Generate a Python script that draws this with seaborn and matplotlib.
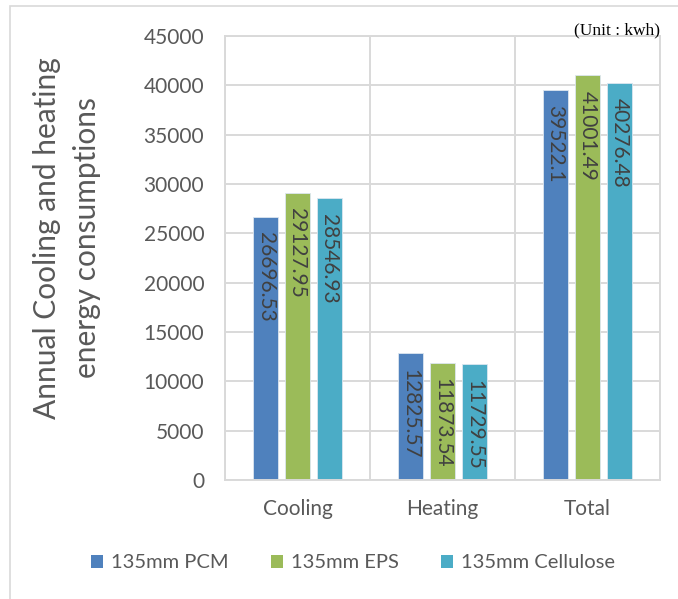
import pandas as pd
import seaborn as sns
import matplotlib.pyplot as plt
from matplotlib.patches import Rectangle

# data (kWh)
categories = ['Cooling', 'Heating', 'Total']
materials = ['135mm PCM', '135mm EPS', '135mm Cellulose']
pcm_values = [26696.53, 12825.57, 39522.1]
eps_values = [29127.95, 11873.54, 41001.49]
cellulose_values = [28546.93, 11729.55, 40276.48]
label_texts = [
    ['26696.53', '12825.57', '39522.1'],
    ['29127.95', '11873.54', '41001.49'],
    ['28546.93', '11729.55', '40276.48'],
]
colors = ['#4F81BD', '#9BBB59', '#4BACC6']

rows = []
for mat, vals in zip(materials, [pcm_values, eps_values, cellulose_values]):
    for cat, v in zip(categories, vals):
        rows.append({'Category': cat, 'Material': mat, 'Value': v})
df = pd.DataFrame(rows)

sns.set_theme(style='white')
plt.rcParams['font.family'] = ['Lato', 'DejaVu Sans']
text_gray = '#595959'
grid_gray = '#D9D9D9'

fig = plt.figure(figsize=(6.78, 5.99), dpi=100)
ax = fig.add_axes([225 / 678, 1 - 480 / 599, 435 / 678, 444 / 599])

sns.barplot(data=df, x='Category', y='Value', hue='Material', order=categories,
            hue_order=materials, palette=colors, saturation=1, width=0.66, gap=0.22,
            edgecolor='#DCE6F0', linewidth=0.6, ax=ax, legend=False)

# value labels inside the bar ends
for cont, labels in zip(ax.containers, label_texts):
    for patch, lab in zip(cont.patches, labels):
        ax.annotate(lab, xy=(patch.get_x() + patch.get_width() / 2, patch.get_height()),
                    xytext=(0, -11), textcoords='offset points', rotation=270,
                    ha='center', va='top', fontsize=15, color='#404040')

ax.set_ylim(0, 45000)
ax.set_xlim(-0.5, 2.5)
ax.set_yticks(range(0, 45001, 5000))
ax.set_xticks([-0.5, 0.5, 1.5, 2.5], minor=True)
ax.grid(True, axis='y', color=grid_gray, linewidth=1.4)
ax.grid(True, axis='x', which='minor', color=grid_gray, linewidth=1.4)
ax.set_axisbelow(True)
for s in ax.spines.values():
    s.set_color(grid_gray)
    s.set_linewidth(1.4)
ax.tick_params(axis='both', which='both', length=0, labelsize=15, colors=text_gray)
ax.tick_params(axis='y', pad=15)
ax.tick_params(axis='x', pad=14)
ax.set_xlabel('')
ax.set_ylabel('')

fig.text(67 / 678, 1 - 238 / 599, 'Annual Cooling and heating\nenergy consumptions',
         rotation=90, ha='center', va='center', fontsize=21.5, color=text_gray,
         linespacing=1.5)

fig.text(660 / 678, 1 - 30 / 599, '(Unit : kwh)', ha='right', va='center',
         fontsize=12.5, family='Liberation Serif', color='black')

handles = [Rectangle((0, 0), 1, 1, facecolor=c, edgecolor='none') for c in colors]
fig.legend(handles, materials, loc='center', bbox_to_anchor=(353 / 678, 1 - 563 / 599),
           ncol=3, frameon=False, fontsize=14.5, labelcolor=text_gray,
           handlelength=0.6, handleheight=0.6, handletextpad=0.4, columnspacing=2.1)

# outer chart frame
fig.patches.append(Rectangle((10 / 678, -0.1), 1.2, 1.1 - 6 / 599, transform=fig.transFigure,
                             fill=False, edgecolor=grid_gray, linewidth=1.2))

fig.savefig('out.png', dpi=100)
